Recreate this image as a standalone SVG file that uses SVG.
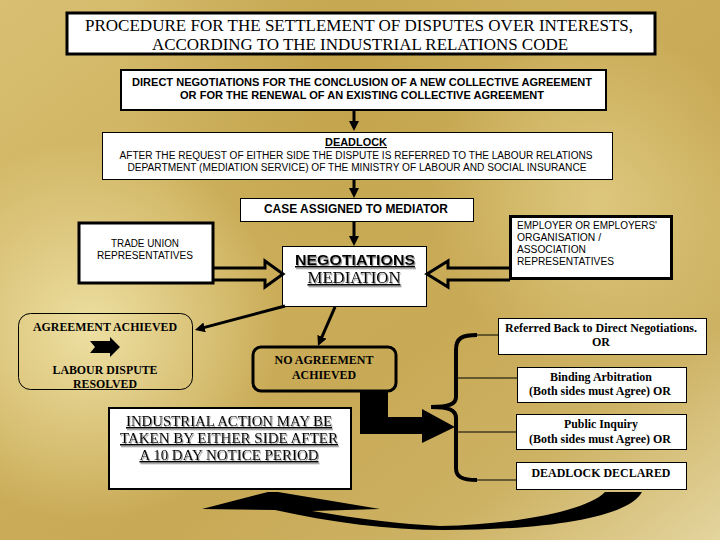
<svg xmlns="http://www.w3.org/2000/svg" width="720" height="540" viewBox="0 0 720 540">
<defs>
<linearGradient id="bg" x1="0" y1="0" x2="1" y2="1">
<stop offset="0" stop-color="#d8bf72"/>
<stop offset="0.35" stop-color="#cdb05c"/>
<stop offset="0.6" stop-color="#c8a955"/>
<stop offset="0.8" stop-color="#cdb264"/>
<stop offset="1" stop-color="#e4d59e"/>
</linearGradient>
<radialGradient id="lt1" cx="90" cy="330" r="190" gradientUnits="userSpaceOnUse">
<stop offset="0" stop-color="#efe2a6" stop-opacity="0.95"/>
<stop offset="1" stop-color="#efe2a6" stop-opacity="0"/>
</radialGradient>
<radialGradient id="lt2" cx="600" cy="200" r="170" gradientUnits="userSpaceOnUse">
<stop offset="0" stop-color="#e2cf88" stop-opacity="0.8"/>
<stop offset="1" stop-color="#e2cf88" stop-opacity="0"/>
</radialGradient>
<radialGradient id="dk1" cx="340" cy="70" r="220" gradientUnits="userSpaceOnUse">
<stop offset="0" stop-color="#bf9f46" stop-opacity="0.8"/>
<stop offset="1" stop-color="#bf9f46" stop-opacity="0"/>
</radialGradient>
<marker id="ah" viewBox="0 0 10 10" refX="2" refY="5" markerWidth="10" markerHeight="10" markerUnits="userSpaceOnUse" orient="auto">
<path d="M0,0 L10,5 L0,10 z" fill="#000"/>
</marker>
<filter id="sh" x="-10%" y="-30%" width="130%" height="160%">
<feDropShadow dx="1" dy="1.5" stdDeviation="0.3" flood-color="#808080" flood-opacity="0.9"/>
</filter>
<style>
.box{fill:#fff;stroke:#000}
.sans{font-family:"Liberation Sans",Arial,sans-serif;fill:#000}
.serif{font-family:"Liberation Serif","Times New Roman",serif;fill:#000}
.b{font-weight:bold}
.u{text-decoration:underline}
.conn{stroke:#000;stroke-width:3;fill:none}
.thin{stroke:#000;stroke-width:1;fill:none}
</style>
</defs>
<rect x="0" y="0" width="720" height="540" fill="url(#bg)"/>
<rect x="0" y="0" width="720" height="540" fill="url(#dk1)"/>
<rect x="0" y="0" width="720" height="540" fill="url(#lt1)"/>
<rect x="0" y="0" width="720" height="540" fill="url(#lt2)"/>

<g id="title">
<rect class="box" x="67" y="13" width="588" height="41" stroke-width="3"/>
<text class="serif" x="359" y="31" font-size="16" text-anchor="middle" textLength="548" lengthAdjust="spacingAndGlyphs">PROCEDURE FOR THE SETTLEMENT OF DISPUTES OVER INTERESTS,</text>
<text class="serif" x="360" y="50" font-size="16" text-anchor="middle" textLength="416" lengthAdjust="spacingAndGlyphs">ACCORDING TO THE INDUSTRIAL RELATIONS CODE</text>
</g>

<g id="direct">
<rect class="box" x="121" y="70" width="485" height="40" stroke-width="2"/>
<text class="sans b" x="362" y="86" font-size="11" text-anchor="middle" textLength="460" lengthAdjust="spacingAndGlyphs">DIRECT NEGOTIATIONS FOR THE CONCLUSION OF A NEW COLLECTIVE AGREEMENT</text>
<text class="sans b" x="362" y="99" font-size="11" text-anchor="middle" textLength="364" lengthAdjust="spacingAndGlyphs">OR FOR THE RENEWAL OF AN EXISTING COLLECTIVE AGREEMENT</text>
</g>

<g id="deadlock">
<rect class="box" x="102.5" y="132.5" width="510" height="47" stroke-width="1"/>
<text class="sans b u" x="356" y="146" font-size="11" text-anchor="middle" textLength="62" lengthAdjust="spacingAndGlyphs">DEADLOCK</text>
<text class="sans" x="356" y="159" font-size="10" text-anchor="middle" textLength="473" lengthAdjust="spacingAndGlyphs">AFTER THE REQUEST OF EITHER SIDE THE DISPUTE IS REFERRED TO THE LABOUR RELATIONS</text>
<text class="sans" x="357" y="171" font-size="10" text-anchor="middle" textLength="459" lengthAdjust="spacingAndGlyphs">DEPARTMENT (MEDIATION SERVICE) OF THE MINISTRY OF LABOUR AND SOCIAL INSURANCE</text>
</g>

<g id="case">
<rect class="box" x="240.5" y="198.5" width="233" height="23" stroke-width="1"/>
<text class="sans b" x="356" y="213" font-size="12" text-anchor="middle" textLength="184" lengthAdjust="spacingAndGlyphs">CASE ASSIGNED TO MEDIATOR</text>
</g>

<g id="trade-union">
<rect class="box" x="79" y="223" width="134" height="60" stroke-width="3"/>
<text class="sans" x="145" y="247" font-size="10" text-anchor="middle" textLength="68" lengthAdjust="spacingAndGlyphs">TRADE UNION</text>
<text class="sans" x="145" y="259" font-size="10" text-anchor="middle" textLength="96" lengthAdjust="spacingAndGlyphs">REPRESENTATIVES</text>
</g>

<g id="employer">
<rect class="box" x="510.5" y="216.5" width="161" height="62" stroke-width="3"/>
<text class="sans" x="517" y="229" font-size="10" textLength="140" lengthAdjust="spacingAndGlyphs">EMPLOYER OR EMPLOYERS'</text>
<text class="sans" x="517" y="241" font-size="10" textLength="84" lengthAdjust="spacingAndGlyphs">ORGANISATION /</text>
<text class="sans" x="517" y="253" font-size="10" textLength="69" lengthAdjust="spacingAndGlyphs">ASSOCIATION</text>
<text class="sans" x="517" y="265" font-size="10" textLength="97" lengthAdjust="spacingAndGlyphs">REPRESENTATIVES</text>
</g>

<g id="negotiations">
<rect class="box" x="282.5" y="246.5" width="144" height="60" stroke-width="1"/>
<text class="sans b u" x="355" y="265" font-size="15" text-anchor="middle" textLength="120" lengthAdjust="spacingAndGlyphs" filter="url(#sh)">NEGOTIATIONS</text>
<text class="serif u" x="354" y="283" font-size="16" text-anchor="middle" textLength="93" lengthAdjust="spacingAndGlyphs" filter="url(#sh)">MEDIATION</text>
</g>

<g id="agreement">
<rect x="18.5" y="313.5" width="174" height="76" rx="12" fill="none" stroke="#000" stroke-width="1"/>
<text class="serif b" x="105" y="331" font-size="12" text-anchor="middle" textLength="144" lengthAdjust="spacingAndGlyphs">AGREEMENT ACHIEVED</text>
<path d="M90,341 L110,341 L110,337 L120,347 L110,357 L110,353 L90,353 L95,347 Z" fill="#000"/>
<text class="serif b" x="105" y="374" font-size="12" text-anchor="middle" textLength="105" lengthAdjust="spacingAndGlyphs">LABOUR DISPUTE</text>
<text class="serif b" x="105" y="388" font-size="12" text-anchor="middle" textLength="64" lengthAdjust="spacingAndGlyphs">RESOLVED</text>
</g>

<g id="no-agreement">
<rect x="253" y="347" width="143" height="44" rx="8" fill="none" stroke="#000" stroke-width="3"/>
<text class="serif b" x="324" y="364" font-size="12" text-anchor="middle" textLength="99" lengthAdjust="spacingAndGlyphs">NO AGREEMENT</text>
<text class="serif b" x="324" y="379" font-size="12" text-anchor="middle" textLength="64" lengthAdjust="spacingAndGlyphs">ACHIEVED</text>
</g>

<g id="industrial-action">
<rect class="box" x="109" y="408" width="242" height="81" stroke-width="2"/>
<text class="serif u" x="229" y="426" font-size="15" text-anchor="middle" textLength="206" lengthAdjust="spacingAndGlyphs" filter="url(#sh)">INDUSTRIAL ACTION MAY BE</text>
<text class="serif u" x="229" y="443" font-size="15" text-anchor="middle" textLength="218" lengthAdjust="spacingAndGlyphs" filter="url(#sh)">TAKEN BY EITHER SIDE AFTER</text>
<text class="serif u" x="229" y="460" font-size="15" text-anchor="middle" textLength="179" lengthAdjust="spacingAndGlyphs" filter="url(#sh)">A 10 DAY NOTICE PERIOD</text>
</g>

<g id="referred">
<rect class="box" x="498.5" y="318.5" width="208" height="36" stroke-width="1"/>
<text class="serif b" x="601" y="332" font-size="12" text-anchor="middle" textLength="192" lengthAdjust="spacingAndGlyphs">Referred Back to Direct Negotiations.</text>
<text class="serif b" x="601" y="346" font-size="12" text-anchor="middle">OR</text>
</g>

<g id="binding">
<rect class="box" x="517.5" y="367.5" width="169" height="35" stroke-width="1"/>
<text class="serif b" x="601" y="381" font-size="12" text-anchor="middle" textLength="102" lengthAdjust="spacingAndGlyphs">Binding Arbitration</text>
<text class="serif b" x="600" y="395" font-size="12" text-anchor="middle" textLength="142" lengthAdjust="spacingAndGlyphs">(Both sides must Agree) OR</text>
</g>

<g id="public-inquiry">
<rect class="box" x="516.5" y="414.5" width="170" height="35" stroke-width="1"/>
<text class="serif b" x="601" y="428" font-size="12" text-anchor="middle" textLength="74" lengthAdjust="spacingAndGlyphs">Public Inquiry</text>
<text class="serif b" x="600" y="443" font-size="12" text-anchor="middle" textLength="142" lengthAdjust="spacingAndGlyphs">(Both sides must Agree) OR</text>
</g>

<g id="deadlock-declared">
<rect class="box" x="516.5" y="462.5" width="170" height="27" stroke-width="1"/>
<text class="serif b" x="601" y="477" font-size="12" text-anchor="middle" textLength="139" lengthAdjust="spacingAndGlyphs">DEADLOCK DECLARED</text>
</g>

<g id="connectors">
<line class="conn" x1="354" y1="111" x2="354" y2="123" marker-end="url(#ah)"/>
<line class="conn" x1="354" y1="180" x2="354" y2="190" marker-end="url(#ah)"/>
<line class="conn" x1="354" y1="222" x2="354" y2="238" marker-end="url(#ah)"/>
<path class="conn" d="M213,268 L265,268 L265,261 L283,274 L265,287 L265,280 L213,280"/>
<path class="conn" d="M510,268 L448,268 L448,261 L427,274 L448,287 L448,280 L510,280"/>
<line class="conn" x1="285" y1="306" x2="202.7" y2="327.9" marker-end="url(#ah)"/>
<line class="conn" x1="335" y1="307" x2="321.2" y2="338.7" marker-end="url(#ah)"/>
<path d="M360,392 L388,392 L388,417 L422,417 L422,409 L455,427 L422,443 L422,434 L360,434 Z" fill="#000"/>
<path d="M477,335 C462,335 456,338 456,350 L456,397 C456,404 449,407 431,407 C449,407 456,410 456,418 L456,468 C456,477 462,480 477,480" fill="none" stroke="#000" stroke-width="4"/>
<line class="thin" x1="477" y1="335" x2="498" y2="335"/>
<line class="thin" x1="456" y1="378" x2="517" y2="378"/>
<line class="thin" x1="456" y1="432" x2="516" y2="432"/>
<line class="thin" x1="477" y1="480" x2="516" y2="480"/>
<path d="M202,509 L268,492 L278,492 L380,509 L312,511 C360,519 400,524 440,526 C520,524 588,510 605,492 L642,492 C628,518 545,530 445,530 C385,530 330,522 275,510 Z" fill="#000"/>
</g>
</svg>
